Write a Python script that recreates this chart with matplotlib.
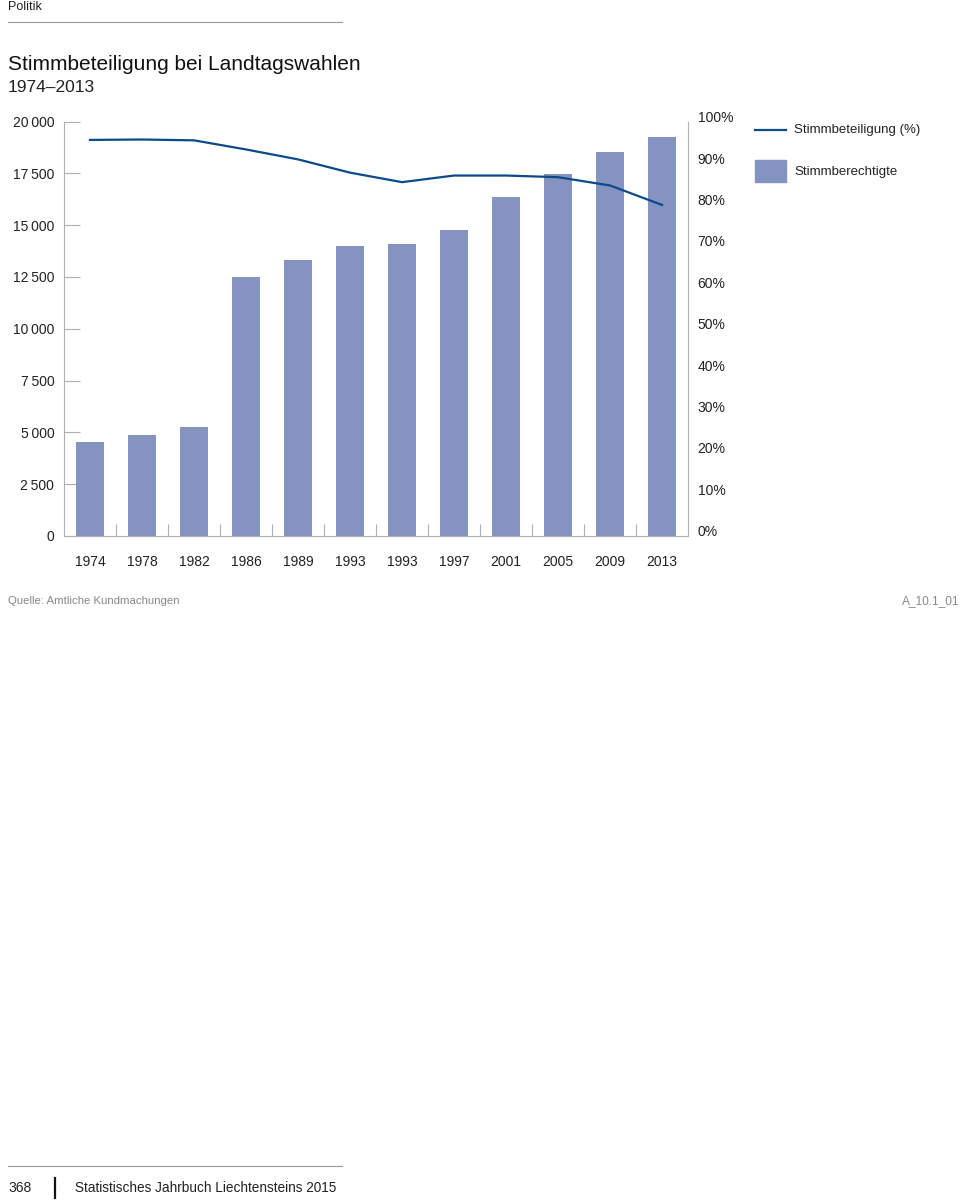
import matplotlib.pyplot as plt
import matplotlib.transforms as mtransforms
import numpy as np

plt.rcParams['font.family'] = ['Liberation Sans', 'DejaVu Sans']

# Wahljahre (1993 gab es zwei Wahlen)
jahre = ['1974', '1978', '1982', '1986', '1989', '1993', '1993', '1997',
         '2001', '2005', '2009', '2013']
# Stimmberechtigte
stimmberechtigte = [4550, 4870, 5240, 12520, 13330, 14010, 14090, 14780,
                    16360, 17470, 18520, 19280]
# Stimmbeteiligung in %
beteiligung = [95.6, 95.7, 95.5, 93.3, 90.9, 87.7, 85.4, 87.0,
               87.0, 86.6, 84.6, 79.9]

left_ticks = [0, 2500, 5000, 7500, 10000, 12500, 15000, 17500, 20000]
right_ticks = list(range(0, 101, 10))

bar_col = '#8593c1'
line_col = '#0c4a8a'
grey = '#b0b0b0'
txt = '#222222'

fig = plt.figure(figsize=(9.6, 12.01), dpi=100)

# Kopfzeile
fig.text(8 / 960, 1 - 7 / 1201, 'Politik', fontsize=9, color=txt, va='center')
fig.add_artist(plt.Line2D([8 / 960, 342 / 960], [1 - 22 / 1201] * 2, color='#999999', lw=0.8))
fig.text(8 / 960, 1 - 65 / 1201, 'Stimmbeteiligung bei Landtagswahlen', fontsize=15,
         color='#111111', va='center')
fig.text(8 / 960, 1 - 87 / 1201, '1974\u20132013', fontsize=12.5, color=txt, va='center')

ax = fig.add_axes([64 / 960, 1 - 535.8 / 1201, 624 / 960, 414.1 / 1201])
x = np.arange(len(jahre))
ax.bar(x, stimmberechtigte, width=0.54, color=bar_col, zorder=2)
ax.set_xlim(-0.5, len(jahre) - 0.5)
ax.set_ylim(0, 20000)
ax.set_yticks(left_ticks)
ax.set_yticklabels([f'{v:,}'.replace(',', '\u2009') for v in left_ticks])
ax.set_xticks(x)
ax.set_xticklabels(jahre)
ax.set_xticks(np.arange(0.5, len(jahre) - 1, 1), minor=True)

ax.tick_params(axis='y', which='major', direction='in', length=11.5, width=0.8,
               color=grey, labelsize=10, labelcolor=txt, pad=7, right=True)
ax.tick_params(axis='x', which='major', length=0, labelsize=10, labelcolor=txt, pad=13.5)
ax.tick_params(axis='x', which='minor', direction='in', length=9, width=0.8, color=grey)
ax.spines['top'].set_visible(False)
for s in ['left', 'right', 'bottom']:
    ax.spines[s].set_color(grey)
    ax.spines[s].set_linewidth(0.8)

ax2 = ax.twinx()
ax2.plot(x, beteiligung, color=line_col, lw=1.6, zorder=3)
ax2.set_ylim(0, 100)
ax2.set_yticks(right_ticks)
ax2.set_yticklabels([f'{v}%' for v in right_ticks])
ax2.tick_params(axis='y', length=0, labelsize=10, labelcolor=txt, pad=7)
for s in ax2.spines.values():
    s.set_visible(False)
off = mtransforms.ScaledTranslation(0, 5 / 100, fig.dpi_scale_trans)
for lab in ax2.get_yticklabels():
    lab.set_transform(lab.get_transform() + off)

# Legende
fig.add_artist(plt.Line2D([755 / 960, 786 / 960], [1 - 130 / 1201] * 2, color=line_col, lw=1.6))
fig.text(794 / 960, 1 - 130 / 1201, 'Stimmbeteiligung (%)', fontsize=9.5, color=txt, va='center')
fig.add_artist(plt.Rectangle((755 / 960, 1 - 182 / 1201), 31 / 960, 22 / 1201,
                             color=bar_col, transform=fig.transFigure))
fig.text(794 / 960, 1 - 172 / 1201, 'Stimmberechtigte', fontsize=9.5, color=txt, va='center')

# Quelle
fig.text(8 / 960, 1 - 601 / 1201, 'Quelle: Amtliche Kundmachungen', fontsize=8.2,
         color='#888888', va='center')
fig.text(959.5 / 960, 1 - 601 / 1201, 'A_10.1_01', fontsize=8.6, color='#888888',
         va='center', ha='right')

# Fusszeile
fig.add_artist(plt.Line2D([8 / 960, 342 / 960], [1 - 1166 / 1201] * 2, color='#999999', lw=0.8))
fig.text(8 / 960, 1 - 1188 / 1201, '368', fontsize=10, color=txt, va='center')
fig.add_artist(plt.Line2D([55 / 960, 55 / 960], [1 - 1178 / 1201, 1 - 1198 / 1201],
                          color='#111111', lw=1.6))
fig.text(75 / 960, 1 - 1188 / 1201, 'Statistisches Jahrbuch Liechtensteins 2015',
         fontsize=9.8, color=txt, va='center')

fig.savefig('out.png', dpi=100)
